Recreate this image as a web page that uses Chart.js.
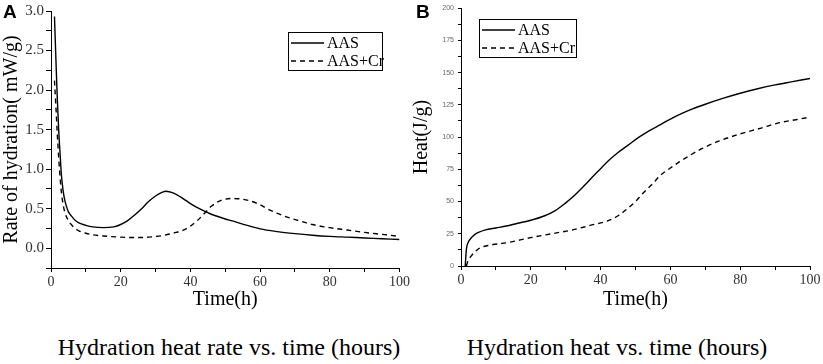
<!DOCTYPE html>
<html>
<head>
<meta charset="utf-8">
<script src="https://cdn.jsdelivr.net/npm/chart.js@4.4.1/dist/chart.umd.min.js"></script>
<style>
  body { margin: 0; background: #fff; }
  #wrap { position: relative; width: 823px; height: 364px; overflow: hidden; }
  .panel { position: absolute; top: 0; height: 312px; }
  .letter { position: absolute; font: bold 19px "Liberation Sans", Arial, sans-serif; color: #000; }
  .caption { position: absolute; top: 334px; font: 24px "Liberation Serif", "Times New Roman", serif; color: #000; white-space: nowrap; transform: translateX(-50%); }
</style>
</head>
<body>
<div id="wrap">
  <div class="panel" style="left:0;width:412px"><canvas id="rateChart"></canvas></div>
  <div class="panel" style="left:410px;width:413px"><canvas id="heatChart"></canvas></div>
  <div class="letter" style="left:3px;top:1px">A</div>
  <div class="letter" style="left:416px;top:1px">B</div>
  <div class="caption" style="left:229px">Hydration heat rate vs. time (hours)</div>
  <div class="caption" style="left:617px">Hydration heat vs. time (hours)</div>
</div>
<script>
// Panel A: rate of hydration (mW/g)
const rateTimeAAS = [1.0, 1.4, 1.8, 2.2, 2.6, 3, 3.5, 4, 4.5, 5, 6, 7, 8, 10, 12, 15, 18, 20, 22, 24, 26, 28, 30, 32, 33, 35, 38, 40, 43, 46, 50, 52, 55, 60, 65, 70, 75, 80, 85, 90, 95, 100];
const rateAAS     = [2.93, 2.4, 1.9, 1.5, 1.2, 0.92, 0.72, 0.6, 0.52, 0.46, 0.4, 0.35, 0.32, 0.29, 0.27, 0.26, 0.27, 0.3, 0.35, 0.42, 0.5, 0.59, 0.66, 0.71, 0.72, 0.7, 0.625, 0.565, 0.49, 0.43, 0.37, 0.345, 0.305, 0.245, 0.21, 0.185, 0.165, 0.15, 0.14, 0.13, 0.12, 0.11];
const rateTimeCr  = [1.0, 1.4, 1.8, 2.2, 2.6, 3, 3.5, 4, 5, 6, 7, 8, 10, 12, 15, 20, 25, 28, 32, 35, 38, 40, 42, 44, 46, 48, 50, 52, 54, 57, 60, 62, 65, 68, 71, 75, 80, 85, 90, 95, 100];
const rateCr      = [2.12, 1.8, 1.45, 1.15, 0.9, 0.7, 0.55, 0.45, 0.35, 0.29, 0.25, 0.22, 0.19, 0.17, 0.155, 0.14, 0.135, 0.14, 0.16, 0.19, 0.23, 0.28, 0.35, 0.44, 0.53, 0.59, 0.62, 0.63, 0.625, 0.6, 0.55, 0.5, 0.44, 0.39, 0.35, 0.3, 0.26, 0.23, 0.2, 0.175, 0.15];

// Panel B: cumulative heat (J/g)
const heatTimeAAS = [1.2, 1.4, 1.6, 2, 3, 4, 5, 7, 10, 13, 16, 20, 24, 27, 30, 32, 35, 38, 40, 42, 45, 48, 51, 54, 57, 60, 63, 66, 70, 75, 80, 85, 90, 95, 100];
const heatAAS     = [0, 8, 14, 18, 22, 24.5, 26, 28, 29.5, 31, 33, 35.5, 39, 43, 49, 53.5, 61.5, 70, 75.5, 81, 88, 94, 100, 105, 109.5, 114, 118, 121.5, 125.5, 130, 134, 137.5, 140.5, 143, 145.5];
const heatTimeCr  = [1.5, 2, 3, 4, 5.4, 8, 13, 20, 27, 32, 37, 42, 45, 47, 50, 52, 55, 57, 60, 63, 66, 69, 74, 80, 86, 91, 96, 100];
const heatCr      = [0, 4, 8, 11, 14, 16, 18, 22, 25.5, 28, 31.5, 35, 39, 43, 50, 56, 64, 70, 76, 81.5, 86.5, 91, 97, 102.5, 107, 111, 113.5, 115.5];

const seriesNames = ['AAS', 'AAS+Cr'];
const timeTicks = [0, 20, 40, 60, 80, 100];

const serif = '"Liberation Serif", "Times New Roman", serif';

function toPoints(xs, ys) {
    return xs.map((x, i) => ({ x: x, y: ys[i] }));
}

// legend drawn as a framed box like the original figure
const boxLegend = {
    id: 'boxLegend',
    afterDraw(chart, args, opts) {
        const ctx = chart.ctx;
        ctx.save();
        ctx.strokeStyle = '#000';
        ctx.lineWidth = 1;
        ctx.strokeRect(opts.x + 0.5, opts.y + 0.5, opts.w, opts.h);
        ctx.font = '16px ' + serif;
        ctx.fillStyle = '#000';
        ctx.textBaseline = 'middle';
        chart.data.datasets.forEach((ds, i) => {
            const yy = opts.y + 11 + i * 18;
            ctx.beginPath();
            ctx.setLineDash(ds.borderDash || []);
            ctx.lineWidth = 1.3;
            ctx.moveTo(opts.x + 3, yy);
            ctx.lineTo(opts.x + 36, yy);
            ctx.stroke();
            ctx.setLineDash([]);
            ctx.fillText(ds.label, opts.x + 39, yy + 1);
        });
        ctx.restore();
    }
};

function makeDatasets(t1, v1, t2, v2) {
    return [
        {
            label: seriesNames[0],
            data: toPoints(t1, v1),
            borderColor: '#000',
            borderWidth: 1.4,
            pointRadius: 0,
            cubicInterpolationMode: 'monotone',
            fill: false
        },
        {
            label: seriesNames[1],
            data: toPoints(t2, v2),
            borderColor: '#000',
            borderWidth: 1.4,
            borderDash: [5, 4],
            pointRadius: 0,
            cubicInterpolationMode: 'monotone',
            fill: false
        }
    ];
}

function xScale(height) {
    return {
        type: 'linear',
        min: 0,
        max: 100,
        ticks: {
            stepSize: 10,
            autoSkip: false,
            maxRotation: 0,
            color: '#333',
            font: { family: serif, size: 14 },
            padding: 2,
            callback: v => timeTicks.includes(v) ? v : ''
        },
        grid: { drawOnChartArea: false, drawTicks: true, tickLength: 4, color: '#000' },
        border: { display: true, color: '#000', width: 1 },
        title: { display: true, text: 'Time(h)', color: '#000', font: { family: serif, size: 20 }, padding: { top: 0, bottom: 0 } },
        afterFit: s => { s.height = height; }
    };
}

// Chart A
new Chart(document.getElementById('rateChart'), {
    type: 'line',
    data: { datasets: makeDatasets(rateTimeAAS, rateAAS, rateTimeCr, rateCr) },
    options: {
        responsive: true,
        maintainAspectRatio: false,
        animation: false,
        layout: { padding: { top: 9, right: 12, left: 0, bottom: 0 } },
        plugins: {
            legend: { display: false },
            tooltip: { enabled: false },
            boxLegend: { x: 288, y: 32, w: 94, h: 38 }
        },
        scales: {
            x: xScale(44),
            y: {
                min: -0.25,
                max: 3.0,
                ticks: {
                    stepSize: 0.25,
                    autoSkip: false,
                    color: '#333',
                    font: { family: serif, size: 15 },
                    padding: 2,
                    callback: v => (Math.round(v * 100) % 50 === 0 && v >= 0) ? v.toFixed(1) : ''
                },
                grid: { drawOnChartArea: false, drawTicks: true, tickLength: 5, color: '#000' },
                border: { display: true, color: '#000', width: 1 },
                title: { display: true, text: 'Rate of hydration( mW/g)', color: '#000', font: { family: serif, size: 20 }, padding: { top: 0, bottom: 0 } },
                afterFit: s => { s.width = 51; }
            }
        }
    },
    plugins: [boxLegend]
});

// Chart B
new Chart(document.getElementById('heatChart'), {
    type: 'line',
    data: { datasets: makeDatasets(heatTimeAAS, heatAAS, heatTimeCr, heatCr) },
    options: {
        responsive: true,
        maintainAspectRatio: false,
        animation: false,
        layout: { padding: { top: 6, right: 13, left: 0, bottom: 0 } },
        plugins: {
            legend: { display: false },
            tooltip: { enabled: false },
            boxLegend: { x: 69, y: 19, w: 97, h: 38 }
        },
        scales: {
            x: xScale(46),
            y: {
                min: 0,
                max: 200,
                ticks: {
                    stepSize: 12.5,
                    autoSkip: false,
                    color: '#666',
                    font: { family: '"Liberation Sans", Arial, sans-serif', size: 7 },
                    padding: 4,
                    callback: v => (v % 25 === 0) ? v : ''
                },
                grid: { drawOnChartArea: false, drawTicks: true, tickLength: 3, color: '#000' },
                border: { display: true, color: '#000', width: 1 },
                title: { display: true, text: 'Heat(J/g)', color: '#000', font: { family: serif, size: 20 }, padding: { top: 0, bottom: 0 } },
                afterFit: s => { s.width = 51; }
            }
        }
    },
    plugins: [boxLegend]
});
</script>
</body>
</html>
